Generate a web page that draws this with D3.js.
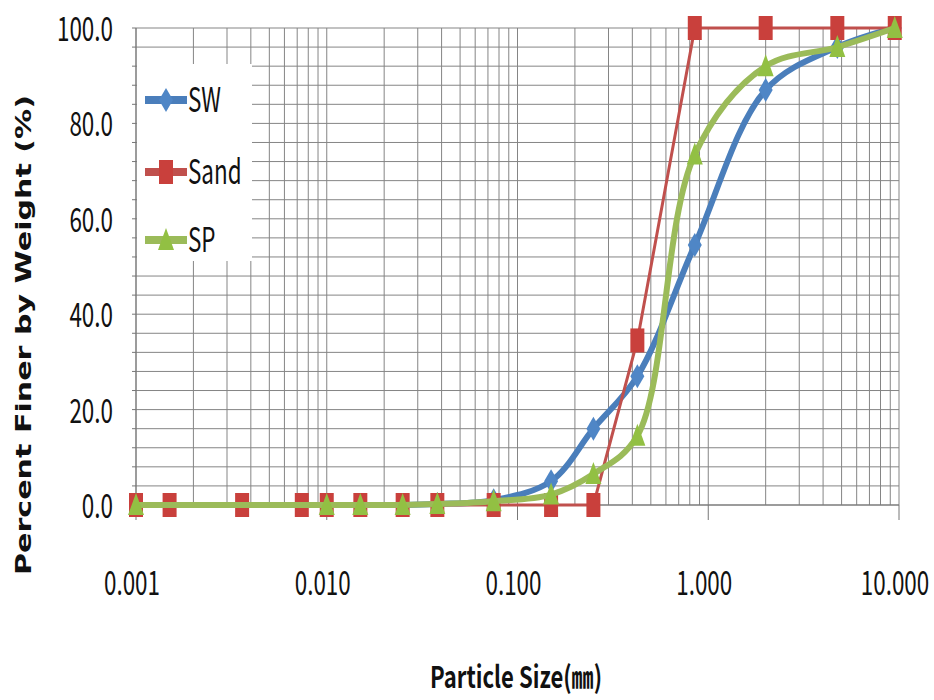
<!DOCTYPE html>
<html>
<head>
<meta charset="utf-8">
<script src="https://d3js.org/d3.v7.min.js"></script>
<style>
  body { margin: 0; background: #fff; }
  svg text { font-family: "Noto Sans CJK KR", "Open Sans", sans-serif; fill: #111; }
  .squeeze { transform-box: fill-box; transform-origin: center; transform: scaleX(0.68); }
  .squeeze-r { transform-box: fill-box; transform-origin: right center; transform: scaleX(0.68); }
  .squeeze-l { transform-box: fill-box; transform-origin: left center; transform: scaleX(0.66); }
</style>
</head>
<body>
<svg id="chart" width="934" height="700"></svg>
<script>
// sieve / hydrometer sizes (mm)
const sandSizes = [0.001, 0.0015, 0.0036, 0.0074, 0.010, 0.015, 0.025, 0.038, 0.075, 0.15, 0.25, 0.425, 0.85, 2.0, 4.75, 9.5];
const sandPass  = [0, 0, 0, 0, 0, 0, 0, 0, 0, 0, 0, 34.5, 100, 100, 100, 100];

const soilSizes = [0.001, 0.010, 0.015, 0.025, 0.038, 0.075, 0.15, 0.25, 0.425, 0.85, 2.0, 4.75, 9.5];
const swPass    = [0, 0, 0, 0, 0.2, 1.0, 5.0, 16, 27, 54.5, 87, 96, 100];
const spPass    = [0, 0, 0, 0, 0.2, 0.8, 2.2, 6.5, 14.5, 73.5, 92, 96, 100];

const xTicks = [0.001, 0.01, 0.1, 1, 10];
const yTicks = [0, 20, 40, 60, 80, 100];

const svg = d3.select("#chart");

const x = d3.scaleLog().domain([0.001, 10]).range([136, 899]);
const y = d3.scaleLinear().domain([0, 100]).range([505, 28]);

// grid
const vLines = [];
for (let k = -3; k < 1; k++) {
  for (let d = 1; d <= 9; d++) vLines.push(d * Math.pow(10, k));
}
vLines.push(10);
const hLines = d3.range(0, 101, 4);

const grid = svg.append("g");
grid.selectAll(".v").data(vLines).enter().append("line")
  .attr("x1", d => x(d)).attr("x2", d => x(d))
  .attr("y1", y(100)).attr("y2", y(0))
  .attr("stroke", "#858585").attr("stroke-width", 1);
grid.selectAll(".h").data(hLines).enter().append("line")
  .attr("x1", x(0.001)).attr("x2", x(10))
  .attr("y1", d => y(d)).attr("y2", d => y(d))
  .attr("stroke", "#858585").attr("stroke-width", 1);

// axes lines and ticks
svg.append("line").attr("x1", x(0.001)).attr("x2", x(0.001))
  .attr("y1", y(100)).attr("y2", y(0)).attr("stroke", "#777");
svg.append("line").attr("x1", x(0.001)).attr("x2", x(10))
  .attr("y1", y(0)).attr("y2", y(0)).attr("stroke", "#777");
svg.selectAll(".ymt").data(hLines).enter().append("line")
  .attr("x1", x(0.001) - 4).attr("x2", x(0.001))
  .attr("y1", d => y(d)).attr("y2", d => y(d))
  .attr("stroke", "#777");
svg.selectAll(".xmt").data(xTicks).enter().append("line")
  .attr("x1", d => x(d)).attr("x2", d => x(d))
  .attr("y1", y(0)).attr("y2", y(0) + 15)
  .attr("stroke", "#777");

// tick labels
svg.selectAll(".yl").data(yTicks).enter().append("text")
  .attr("class", "squeeze-r")
  .attr("x", 113).attr("y", d => y(d) + 13)
  .attr("text-anchor", "end")
  .attr("font-size", 33)
  .text(d => d.toFixed(1));
svg.selectAll(".xl").data(xTicks).enter().append("text")
  .attr("class", "squeeze")
  .attr("x", d => x(d) - 4).attr("y", 595)
  .attr("text-anchor", "middle")
  .attr("font-size", 33)
  .text(d => d.toFixed(3));

// axis titles
svg.append("text")
  .attr("transform", "translate(31,335) rotate(-90)")
  .attr("text-anchor", "middle")
  .attr("font-size", 22).attr("font-weight", "bold")
  .style("font-family", "'DejaVu Sans', sans-serif")
  .attr("textLength", 480).attr("lengthAdjust", "spacingAndGlyphs")
  .text("Percent Finer by Weight (%)");
svg.append("text")
  .attr("x", 516).attr("y", 688)
  .attr("text-anchor", "middle")
  .attr("font-size", 30).attr("font-weight", "bold")
  .attr("textLength", 172).attr("lengthAdjust", "spacingAndGlyphs")
  .text("Particle Size(㎜)");

// markers
const diamond = "M0,-12L7,0L0,12L-7,0Z";
const square = "M-7,-12H7V12H-7Z";
const triangle = "M0,-12L8,10H-8Z";

const series = [
  { name: "SW", sizes: soilSizes, values: swPass, color: "#4a7ebb", width: 6, curve: d3.curveCatmullRom.alpha(0.5), marker: diamond, mfill: "#4f86c6" },
  { name: "Sand", sizes: sandSizes, values: sandPass, color: "#c0504d", width: 3, curve: d3.curveLinear, marker: square, mfill: "#c9403c" },
  { name: "SP", sizes: soilSizes, values: spPass, color: "#9bbb59", width: 6, curve: d3.curveCatmullRom.alpha(0.5), marker: triangle, mfill: "#92c043" }
];

series.forEach(s => {
  const pts = s.sizes.map((d, i) => [x(d), y(s.values[i])]);
  svg.append("path")
    .attr("d", d3.line().curve(s.curve)(pts))
    .attr("fill", "none")
    .attr("stroke", s.color)
    .attr("stroke-width", s.width)
    .attr("stroke-linejoin", "round");
  svg.append("g").selectAll("path").data(pts).enter().append("path")
    .attr("d", s.marker)
    .attr("transform", d => `translate(${d[0]},${d[1]})`)
    .attr("fill", s.mfill);
});

// legend
const legend = svg.append("g");
legend.append("rect").attr("x", 137).attr("y", 64).attr("width", 115).attr("height", 197).attr("fill", "#fff");
const legY = [100, 172, 240];
series.forEach((s, i) => {
  const g = legend.append("g").attr("transform", `translate(0,${legY[i]})`);
  g.append("line").attr("x1", 145).attr("x2", 187).attr("y1", 0).attr("y2", 0)
    .attr("stroke", s.color).attr("stroke-width", 8);
  g.append("path").attr("d", s.marker).attr("transform", "translate(166,0)").attr("fill", s.mfill);
  g.append("text").attr("class", "squeeze-l")
    .attr("x", 188).attr("y", 12)
    .attr("font-size", 34)
    .text(s.name);
});
</script>
</body>
</html>
